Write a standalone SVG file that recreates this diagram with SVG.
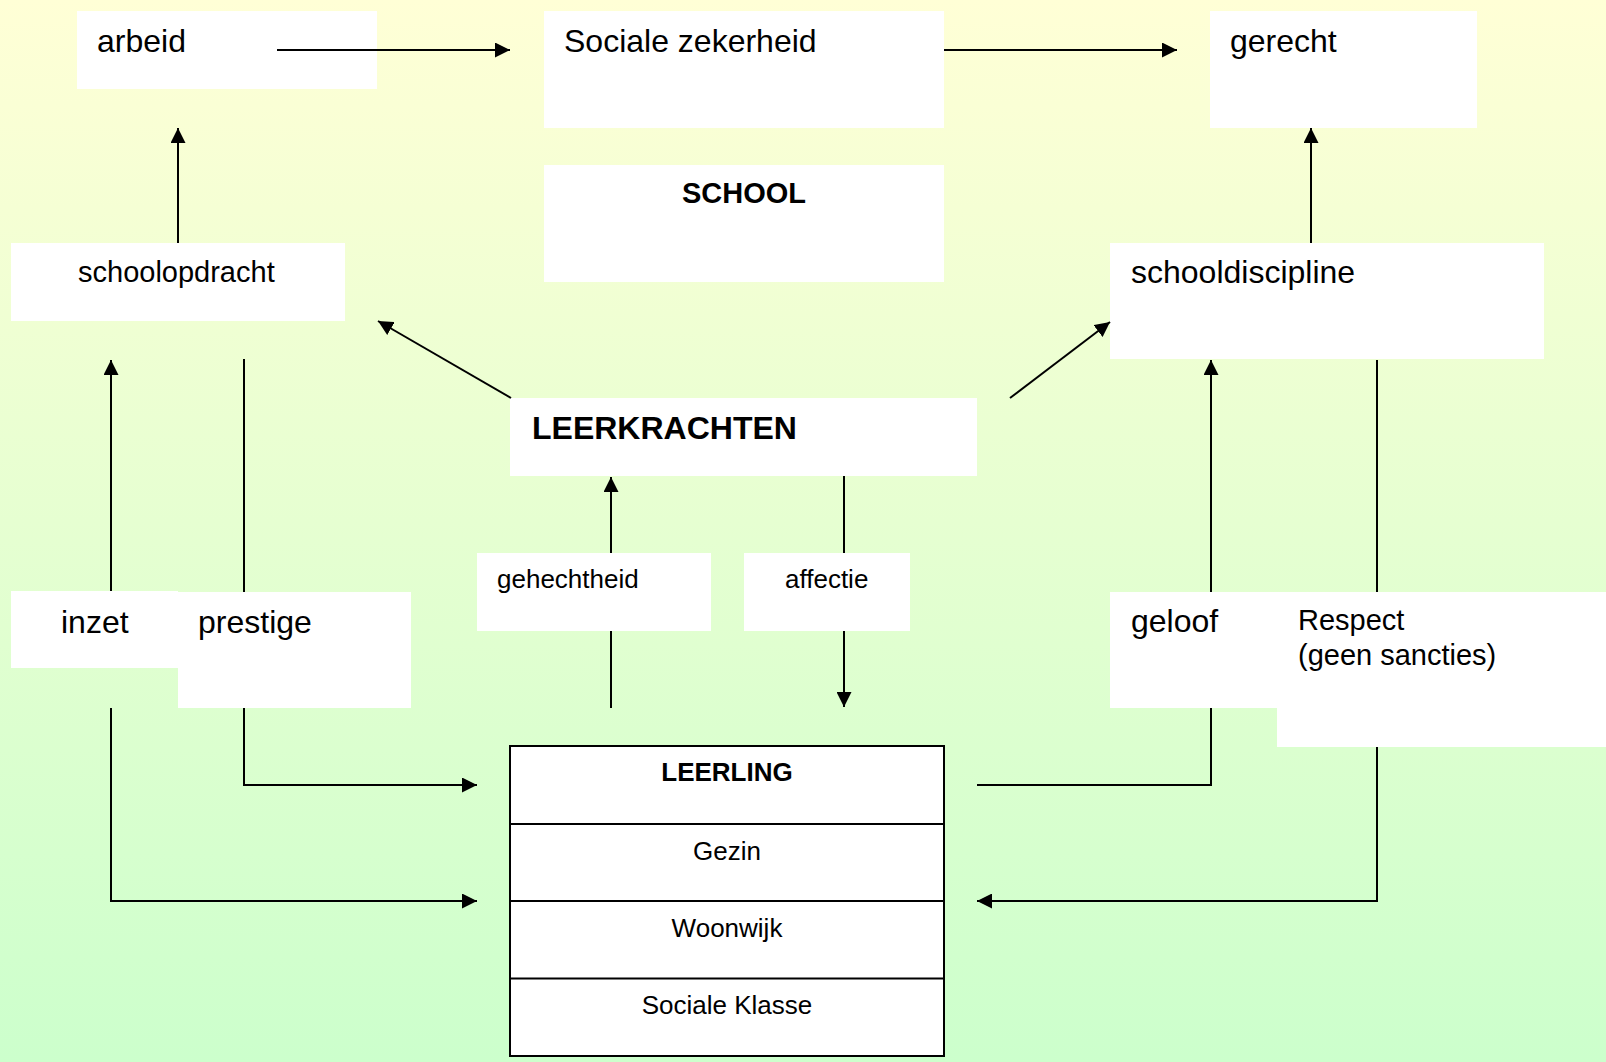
<svg xmlns="http://www.w3.org/2000/svg" width="1606" height="1062" viewBox="0 0 1606 1062">
<defs>
<linearGradient id="bg" x1="0" y1="0" x2="0" y2="1">
<stop offset="0" stop-color="#FFFFD6"/>
<stop offset="1" stop-color="#CCFFCC"/>
</linearGradient>
<marker id="ah" markerUnits="userSpaceOnUse" markerWidth="15" markerHeight="15" refX="15" refY="7.5" orient="auto">
<path d="M0,0 L15,7.5 L0,15 z" fill="#000"/>
</marker>
<style>
.box{fill:#fff;stroke:none}
.t{font-family:"Liberation Sans",Arial,sans-serif;fill:#000}
.b{font-weight:bold}
.c{stroke:#000;stroke-width:2;fill:none}
.a{marker-end:url(#ah)}
.tbl{fill:#fff;stroke:#000;stroke-width:2}
</style>
</defs>
<rect x="0" y="0" width="1606" height="1062" fill="url(#bg)"/>

<g id="arbeid"><rect class="box" x="77" y="11" width="300" height="78"/><text class="t" x="97" y="52" font-size="32">arbeid</text></g>
<g id="sociale-zekerheid"><rect class="box" x="544" y="11" width="400" height="117"/><text class="t" x="564" y="52" font-size="32">Sociale zekerheid</text></g>
<g id="gerecht"><rect class="box" x="1210" y="11" width="267" height="117"/><text class="t" x="1230" y="52" font-size="32">gerecht</text></g>
<g id="school"><rect class="box" x="544" y="165" width="400" height="117"/><text class="t b" x="744" y="203" font-size="29" text-anchor="middle">SCHOOL</text></g>
<g id="schoolopdracht"><rect class="box" x="11" y="243" width="334" height="78"/><text class="t" x="78" y="282" font-size="29">schoolopdracht</text></g>
<g id="schooldiscipline"><rect class="box" x="1110" y="243" width="434" height="116"/><text class="t" x="1131" y="283" font-size="32">schooldiscipline</text></g>
<g id="leerkrachten"><rect class="box" x="510" y="398" width="467" height="78"/><text class="t b" x="532" y="439" font-size="32">LEERKRACHTEN</text></g>
<g id="gehechtheid"><rect class="box" x="477" y="553" width="234" height="78"/><text class="t" x="497" y="588" font-size="26">gehechtheid</text></g>
<g id="affectie"><rect class="box" x="744" y="553" width="166" height="78"/><text class="t" x="785" y="588" font-size="26">affectie</text></g>
<g id="inzet"><rect class="box" x="11" y="591" width="167" height="77"/><text class="t" x="61" y="633" font-size="32">inzet</text></g>
<g id="prestige"><rect class="box" x="178" y="592" width="233" height="116"/><text class="t" x="198" y="633" font-size="32">prestige</text></g>
<g id="geloof"><rect class="box" x="1110" y="592" width="167" height="116"/><text class="t" x="1131" y="632" font-size="32">geloof</text></g>
<g id="respect"><rect class="box" x="1277" y="592" width="329" height="155"/><text class="t" x="1298" y="630" font-size="29">Respect</text><text class="t" x="1298" y="665" font-size="29">(geen sancties)</text></g>
<g id="leerling">
<rect class="tbl" x="510" y="746" width="434" height="310"/>
<line class="c" x1="510" y1="824" x2="944" y2="824"/>
<line class="c" x1="510" y1="901" x2="944" y2="901"/>
<line class="c" x1="510" y1="978.5" x2="944" y2="978.5"/>
<text class="t b" x="727" y="781" font-size="26" text-anchor="middle">LEERLING</text>
<text class="t" x="727" y="860" font-size="26" text-anchor="middle">Gezin</text>
<text class="t" x="727" y="937" font-size="26" text-anchor="middle">Woonwijk</text>
<text class="t" x="727" y="1014" font-size="26" text-anchor="middle">Sociale Klasse</text>
</g>

<g id="connectors">
<path class="c a" d="M277,50 H510"/>
<path class="c a" d="M944,50 H1177"/>
<path class="c a" d="M178,243 V128"/>
<path class="c a" d="M1311,243 V128"/>
<path class="c a" d="M511,398 L378,321"/>
<path class="c a" d="M1010,398 L1110,322"/>
<path class="c a" d="M611,553 V477"/>
<path class="c" d="M611,708 V631"/>
<path class="c" d="M844,476 V553"/>
<path class="c a" d="M844,631 V707"/>
<path class="c a" d="M111,591 V360"/>
<path class="c a" d="M111,708 V901 H477"/>
<path class="c" d="M244,359 V592"/>
<path class="c a" d="M244,708 V785 H477"/>
<path class="c a" d="M1211,592 V360"/>
<path class="c" d="M977,785 H1211 V708"/>
<path class="c" d="M1377,360 V592"/>
<path class="c a" d="M1377,747 V901 H977"/>
</g>
</svg>
